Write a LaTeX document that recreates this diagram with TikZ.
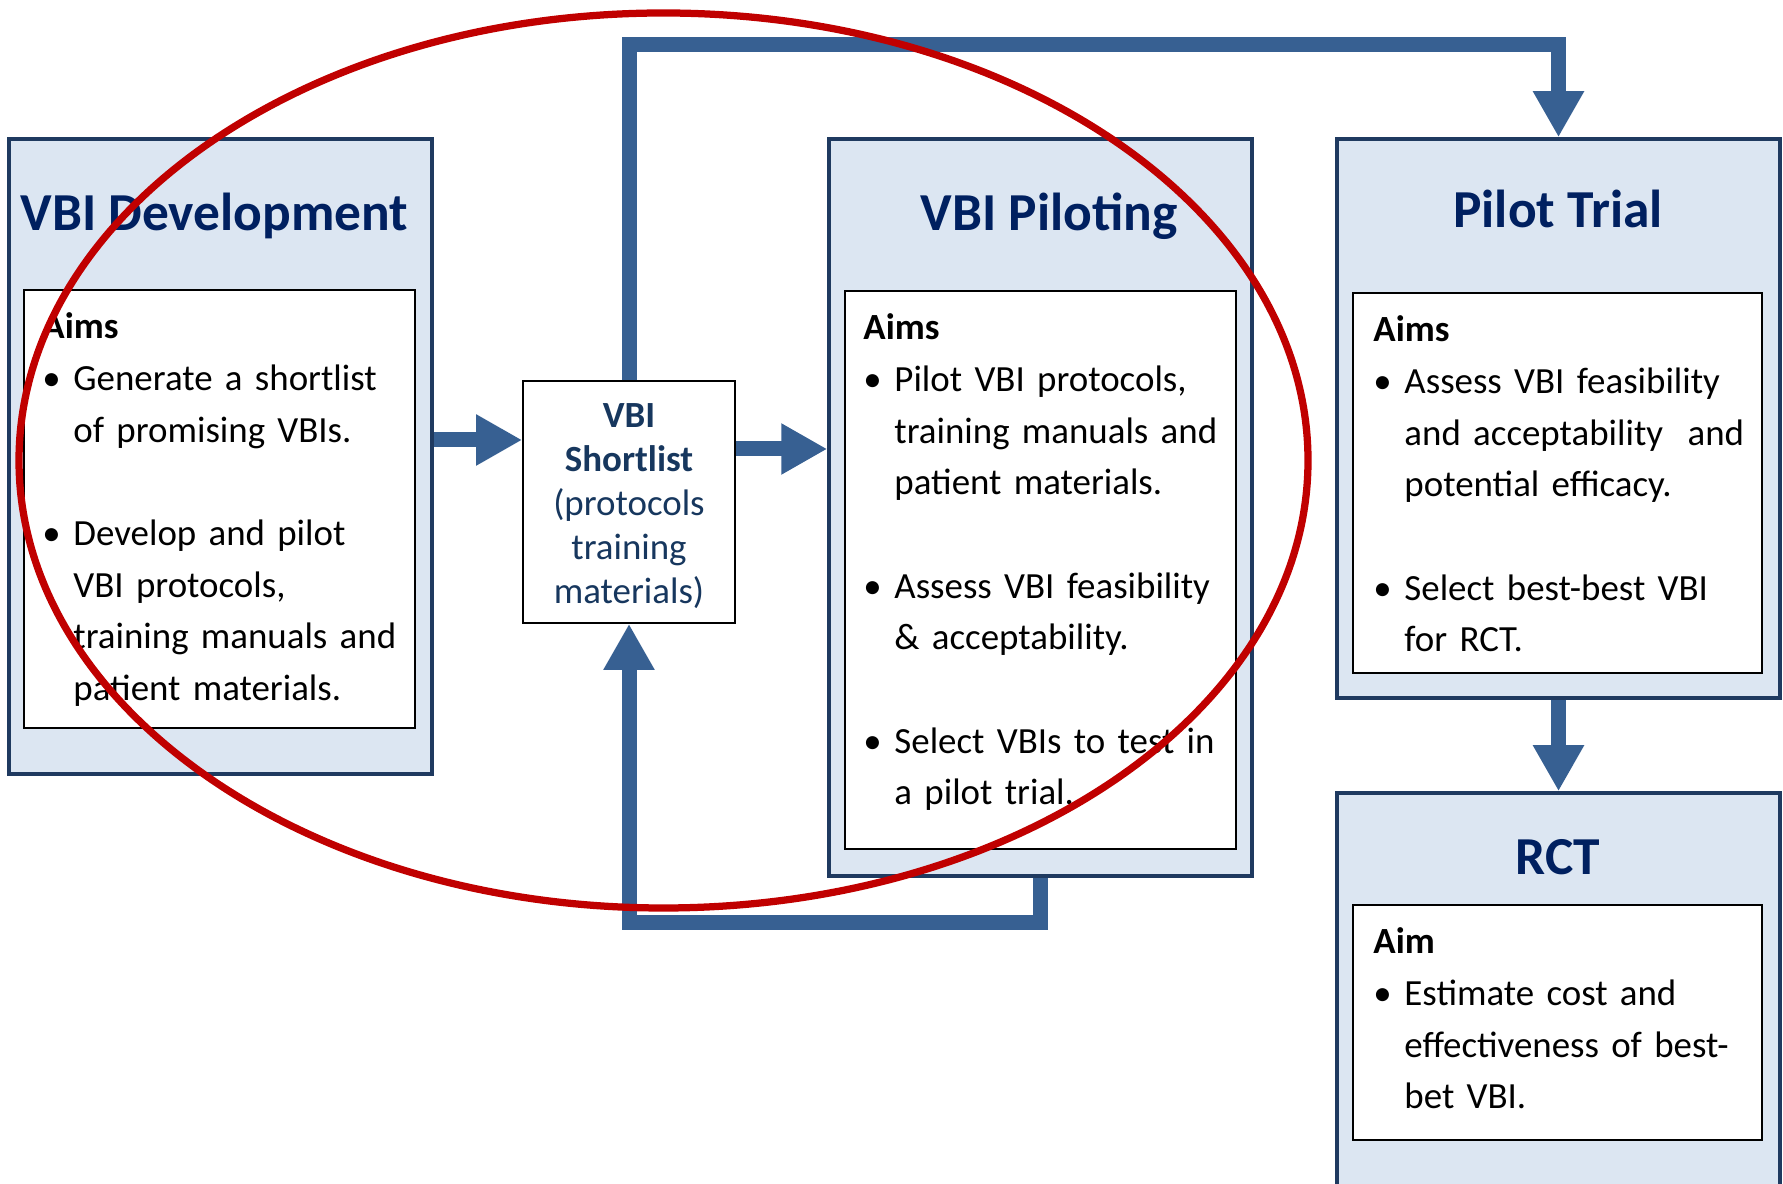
\documentclass[tikz,border=0pt]{standalone}
\usepackage{fontspec}
\setmainfont{Carlito}
\usetikzlibrary{arrows.meta,positioning}
\definecolor{caja}{HTML}{DCE6F2}
\definecolor{borde}{HTML}{1F3A60}
\definecolor{titulo}{HTML}{002060}
\definecolor{flecha}{HTML}{376092}
\definecolor{rojo}{HTML}{C00000}
\definecolor{tintaz}{HTML}{17375E}
\newcommand\aimbul{\makebox[0.62cm][l]{\textbullet}}
\newcommand\aimind{\hspace*{0.62cm}}
\tikzset{
 stage/.style={draw=borde,fill=caja,line width=0.07cm,inner sep=0pt},
 aimbox/.style={draw=black,fill=white,line width=0.035cm,inner sep=0pt},
 stagetitle/.style={font=\fontsize{30.4}{36}\selectfont\bfseries,text=titulo,inner sep=0pt,anchor=base},
 aimtext/.style={anchor=north west,inner sep=0pt,align=left,text width=7.2cm,font=\fontsize{21}{29.4}\selectfont},
 flow/.style={draw=flecha,line width=0.3cm,-{Triangle[length=0.92cm,width=0.96cm]}},
}

\begin{document}
\begin{tikzpicture}

\clip (0,0) rectangle (35.66,23.68);

% stage boxes
\node[stage,minimum width=8.46cm,minimum height=12.70cm] (dev) at (4.41,14.55) {};
\node[aimbox,minimum width=7.82cm,minimum height=8.76cm] (devin) at (4.39,13.50) {};
\node[stage,minimum width=8.46cm,minimum height=14.74cm] (pil) at (20.81,13.53) {};
\node[aimbox,minimum width=7.82cm,minimum height=11.16cm] (pilin) at (20.81,12.28) {};
\node[stage,minimum width=8.86cm,minimum height=11.18cm] (trial) at (31.17,15.31) {};
\node[aimbox,minimum width=8.18cm,minimum height=7.60cm] (trialin) at (31.15,14.02) {};
\node[stage,minimum width=8.86cm,minimum height=8.14cm] (rct) at (31.17,3.75) {};
\node[aimbox,minimum width=8.18cm,minimum height=4.70cm] (rctin) at (31.15,3.23) {};

\node[stagetitle] (devt) at (4.29,19.06) {VBI Development};
\node[stagetitle] (pilt) at (20.98,19.06) {VBI Piloting};
\node[stagetitle] (trialt) at (31.16,19.12) {Pilot Trial};
\node[stagetitle] (rctt) at (31.16,6.18) {RCT};

\node[aimtext] (devtx) at ([xshift=0.38cm,yshift=-0.47cm]devin.north west) {\textbf{Aims}\\
\aimbul Generate a shortlist\\
\aimind of promising VBIs.\\
\mbox{}\\
\aimbul Develop and pilot\\
\aimind VBI protocols,\\
\aimind training manuals and\\
\aimind patient materials.};

\node[aimtext] (piltx) at ([xshift=0.38cm,yshift=-0.47cm]pilin.north west) {\textbf{Aims}\\
\aimbul Pilot VBI protocols,\\
\aimind training manuals and\\
\aimind patient materials.\\
\mbox{}\\
\aimbul Assess VBI feasibility\\
\aimind \& acceptability.\\
\mbox{}\\
\aimbul Select VBIs to test in\\
\aimind a pilot trial.};

\node[aimtext,text width=7.7cm] (trialtx) at ([xshift=0.42cm,yshift=-0.47cm]trialin.north west) {\textbf{Aims}\\
\aimbul Assess VBI feasibility\\
\aimind and acceptability\ \ and\\
\aimind potential efficacy.\\
\mbox{}\\
\aimbul Select best-best VBI\\
\aimind for RCT.};

\node[aimtext,text width=7.7cm] (rcttx) at ([xshift=0.42cm,yshift=-0.47cm]rctin.north west) {\textbf{Aim}\\
\aimbul Estimate cost and\\
\aimind effectiveness of best-\\
\aimind bet VBI.};

% shortlist in the middle
\node[aimbox,minimum width=4.24cm,minimum height=4.84cm] (short) at (12.58,13.64) {};
\node[text width=4.0cm,align=center,text=tintaz,inner sep=0pt,
 font=\fontsize{21}{25}\selectfont] (shorttx) at ([yshift=-0.08cm]short.center)
 {\textbf{VBI}\\\textbf{Shortlist}\\(protocols\\training\\materials)};

% connectors
\coordinate (inA) at ([yshift=1.24cm]short.west);
\coordinate (outA) at ([yshift=1.06cm]short.east);
\coordinate (topbend) at (12.58,22.78);
\coordinate (lowbend) at (12.58,5.22);
\draw[flow] (dev.east |- inA) -- (inA);
\draw[flow] (outA) -- (pil.west |- outA);
\draw[flow] (short.north) |- (trial.north |- topbend) -- (trial.north);
\draw[flow] (pil.south) |- (short.south |- lowbend) -- (short.south);
\draw[flow] (trial.south) -- (rct.north);

% red ring
\draw[rojo,line width=0.145cm] (13.27,14.47) ellipse (12.89 and 8.95);

\end{tikzpicture}
\end{document}
